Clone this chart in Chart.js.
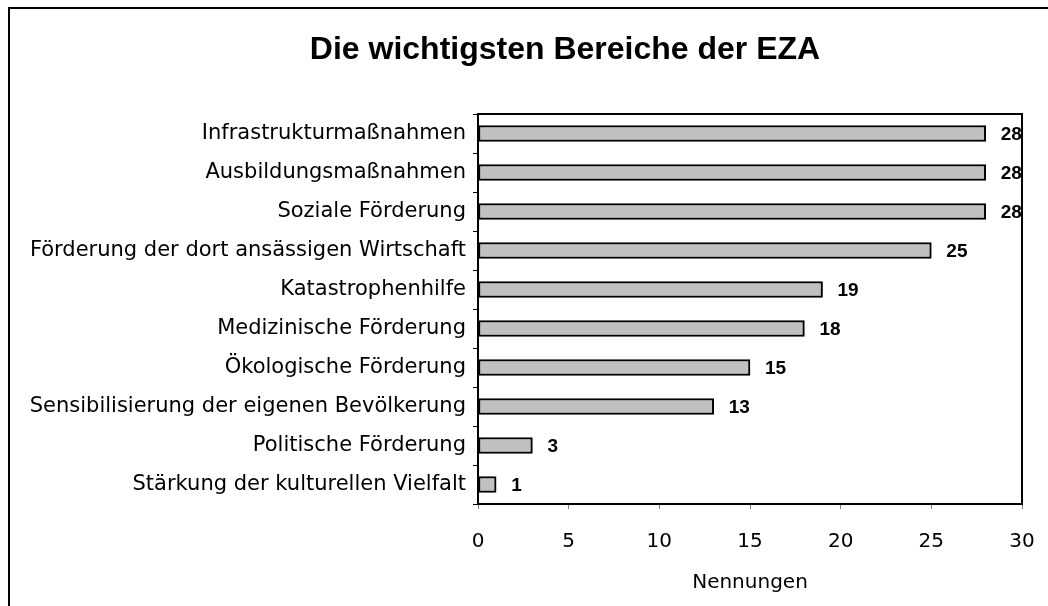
<!DOCTYPE html>
<html>
<head>
<meta charset="utf-8">
<script src="https://cdn.jsdelivr.net/npm/chart.js@4/dist/chart.umd.min.js"></script>
<style>
  html, body { margin: 0; padding: 0; background: #fff; }
  #wrap { width: 1048px; height: 606px; position: relative; }
</style>
</head>
<body>
<div id="wrap"><canvas id="c"></canvas></div>
<script>
// Daten
const bereiche = [
  'Infrastrukturmaßnahmen',
  'Ausbildungsmaßnahmen',
  'Soziale Förderung',
  'Förderung der dort ansässigen Wirtschaft',
  'Katastrophenhilfe',
  'Medizinische Förderung',
  'Ökologische Förderung',
  'Sensibilisierung der eigenen Bevölkerung',
  'Politische Förderung',
  'Stärkung der kulturellen Vielfalt'
];
const nennungen = [28, 28, 28, 25, 19, 18, 15, 13, 3, 1];
const xMin = 0, xMax = 30, xStep = 5;
const titel = 'Die wichtigsten Bereiche der EZA';
const achsenTitel = 'Nennungen';

const labelFont = "'DejaVu Sans', sans-serif";
const boldFont = "'Liberation Sans', Arial, sans-serif";

// Rahmen, Plotbox, Titel, Wertelabels
const deko = {
  id: 'deko',
  afterDraw(chart) {
    const ctx = chart.ctx;
    const a = chart.chartArea;
    ctx.save();
    ctx.strokeStyle = '#000';
    ctx.lineWidth = 2;
    ctx.strokeRect(9, 8, 1100, 700);
    ctx.strokeRect(a.left, a.top, a.right - a.left, a.bottom - a.top);

    ctx.fillStyle = '#000';
    ctx.font = 'bold 32px ' + boldFont;
    ctx.textAlign = 'center';
    ctx.textBaseline = 'middle';
    ctx.fillText(titel, 565, 50);

    ctx.font = 'bold 19px ' + boldFont;
    ctx.textAlign = 'left';
    const meta = chart.getDatasetMeta(0);
    meta.data.forEach((bar, i) => {
      ctx.fillText(String(nennungen[i]), bar.x + 15, bar.y + 1);
    });
    ctx.restore();
  }
};

new Chart(document.getElementById('c'), {
  type: 'bar',
  data: {
    labels: bereiche,
    datasets: [{
      data: nennungen,
      backgroundColor: '#c0c0c0',
      borderColor: '#000',
      borderWidth: 2,
      borderSkipped: false,
      barThickness: 16,
    }],
  },
  options: {
    indexAxis: 'y',
    responsive: true,
    maintainAspectRatio: false,
    animation: false,
    layout: { padding: { left: 0, right: 26, top: 114, bottom: 0 } },
    plugins: {
      legend: { display: false },
      tooltip: { enabled: false },
      title: { display: false },
    },
    scales: {
      x: {
        min: xMin,
        max: xMax,
        ticks: {
          stepSize: xStep,
          color: '#000',
          padding: 21,
          font: { family: labelFont, size: 20 },
        },
        grid: {
          drawOnChartArea: false,
          drawTicks: true,
          tickLength: 5,
          color: '#808080',
        },
        border: { display: false },
        title: {
          display: true,
          text: achsenTitel,
          color: '#000',
          padding: { top: 0, bottom: 11 },
          font: { family: labelFont, size: 20 },
        },
        afterFit(s) {
          s.height = 102;
          s.paddingLeft = 0;
          s.paddingRight = 0;
        },
      },
      y: {
        ticks: {
          color: '#000',
          padding: 7,
          font: { family: labelFont, size: 21 },
        },
        grid: {
          offset: true,
          drawOnChartArea: false,
          drawTicks: true,
          tickLength: 5,
          color: '#000',
        },
        border: { display: false },
        afterFit(s) { s.width = 478; },
      },
    },
  },
  plugins: [deko],
});
</script>
</body>
</html>
